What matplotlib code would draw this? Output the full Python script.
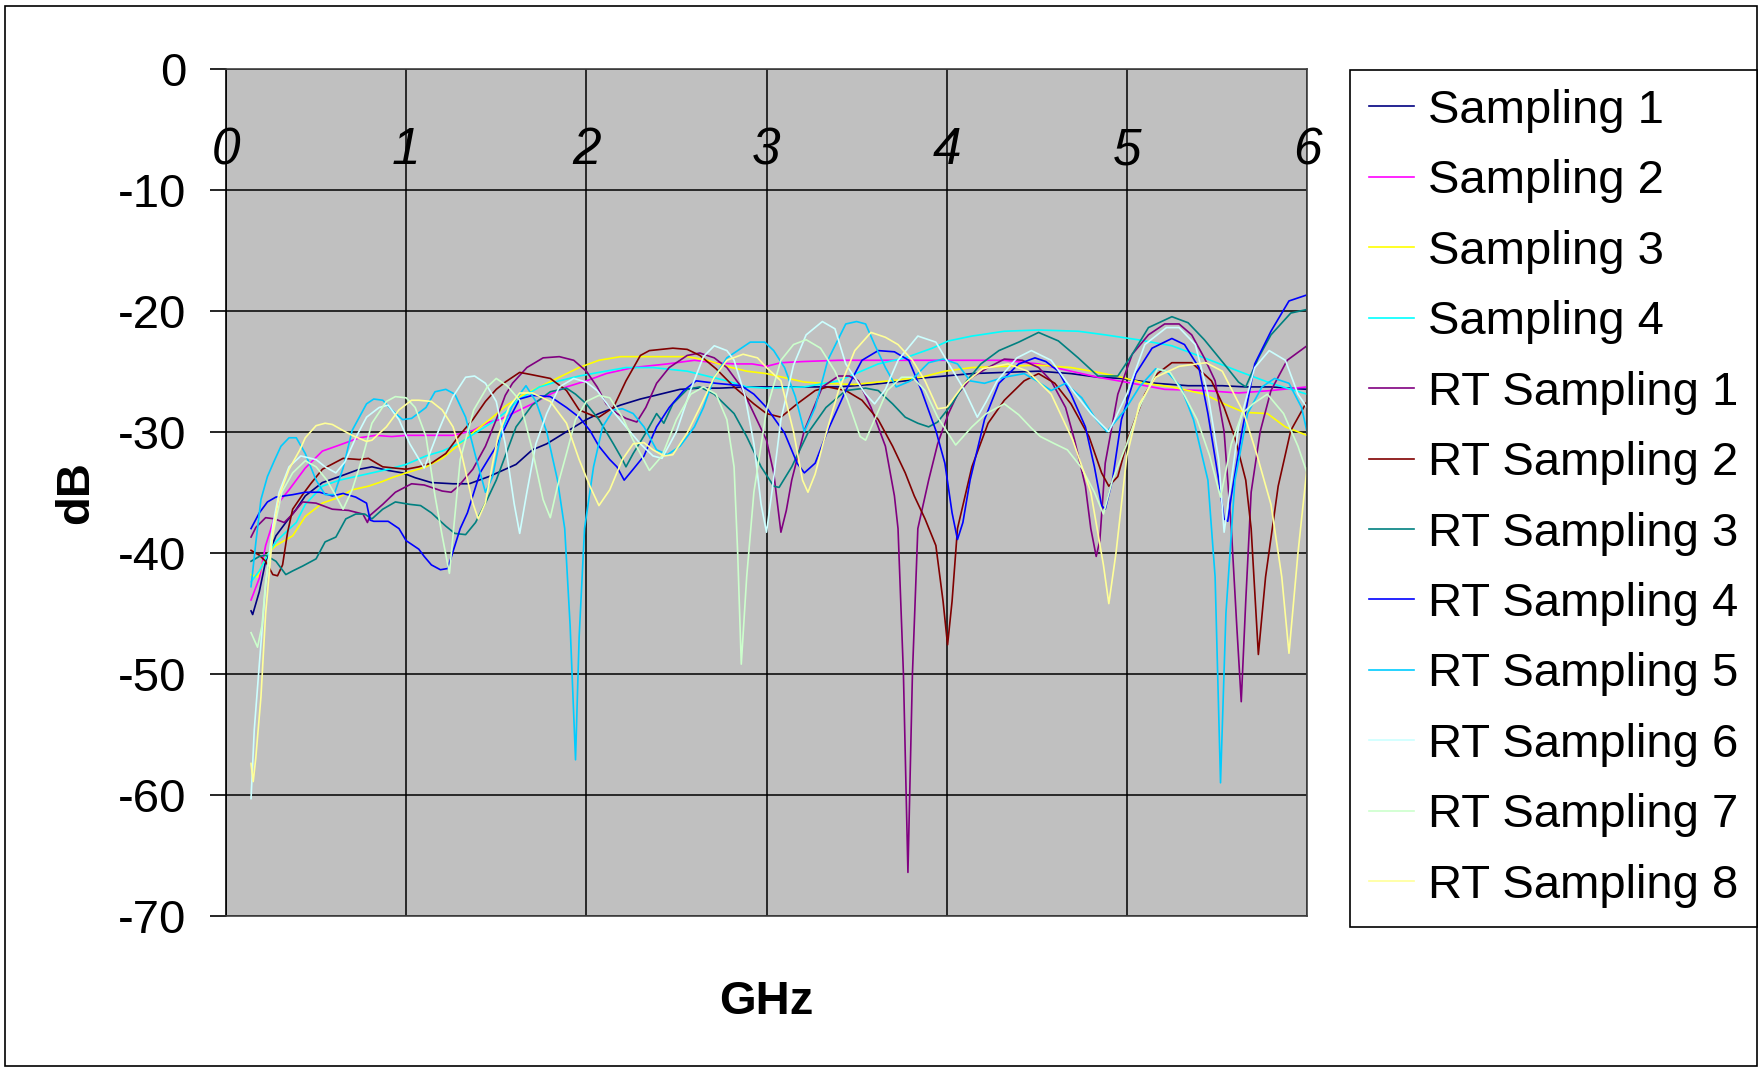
import matplotlib
matplotlib.use("Agg")
import matplotlib.pyplot as plt
from matplotlib.patches import Rectangle

plt.rcParams['font.family'] = ['Liberation Sans', 'DejaVu Sans']
plt.rcParams['axes.unicode_minus'] = False

# (GHz, dB) points
sampling1 = [(0.139, -44.8), (0.148, -45.1), (0.185, -43.2), (0.22, -40.7), (0.277, -38.6), (0.332, -37.5),
             (0.39, -36.4), (0.44, -35.3), (0.535, -34.2), (0.63, -33.7), (0.74, -33.1), (0.81, -32.9),
             (0.9, -33.2), (0.98, -33.4), (1.05, -33.8), (1.14, -34.2), (1.26, -34.3), (1.35, -34.3),
             (1.46, -33.7), (1.52, -33.3), (1.61, -32.7), (1.7, -31.5), (1.78, -31.0), (1.89, -30.0),
             (2.0, -29.0), (2.07, -28.5), (2.19, -27.8), (2.3, -27.3), (2.41, -26.9), (2.52, -26.5),
             (2.63, -26.4), (2.74, -26.4), (2.89, -26.3), (3.0, -26.3), (3.21, -26.3), (3.4, -26.3),
             (3.58, -26.1), (3.77, -25.8), (3.84, -25.6), (3.99, -25.4), (4.14, -25.2), (4.32, -25.1),
             (4.51, -25.0), (4.69, -25.2), (4.84, -25.5), (4.97, -25.6), (5.16, -26.0), (5.34, -26.2),
             (5.53, -26.2), (5.66, -26.3), (5.8, -26.3), (6.0, -26.5)]
sampling2 = [(0.139, -43.9), (0.185, -42.1), (0.22, -39.4), (0.26, -37.5), (0.295, -35.8), (0.35, -34.8),
             (0.44, -33.0), (0.535, -31.6), (0.63, -31.1), (0.74, -30.5), (0.83, -30.3), (0.92, -30.4),
             (1.0, -30.3), (1.11, -30.3), (1.26, -30.3), (1.37, -29.9), (1.46, -29.2), (1.52, -29.0),
             (1.63, -28.2), (1.7, -27.7), (1.8, -26.9), (1.89, -26.3), (2.0, -25.8), (2.11, -25.2),
             (2.26, -24.7), (2.45, -24.4), (2.6, -24.1), (2.71, -24.3), (2.82, -24.4), (2.92, -24.4),
             (3.0, -24.6), (3.08, -24.3), (3.21, -24.2), (3.4, -24.1), (3.77, -24.1), (4.14, -24.1),
             (4.32, -24.1), (4.51, -24.4), (4.69, -25.0), (4.84, -25.5), (5.03, -26.0), (5.21, -26.5),
             (5.43, -26.6), (5.62, -26.8), (5.8, -26.6), (6.0, -26.3)]
sampling3 = [(0.139, -41.8), (0.175, -42.0), (0.2, -41.0), (0.24, -39.9), (0.277, -39.4), (0.37, -38.6),
             (0.44, -37.0), (0.535, -35.9), (0.63, -35.4), (0.7, -34.8), (0.79, -34.5), (0.87, -34.1),
             (0.92, -33.8), (1.0, -33.4), (1.11, -32.9), (1.2, -32.2), (1.29, -31.1), (1.385, -29.9),
             (1.48, -28.8), (1.55, -27.9), (1.63, -27.1), (1.74, -26.3), (1.85, -25.5), (1.96, -24.7),
             (2.07, -24.1), (2.19, -23.8), (2.33, -23.8), (2.56, -23.8), (2.67, -24.1), (2.78, -24.6),
             (2.89, -25.0), (3.0, -25.2), (3.21, -25.9), (3.31, -26.0), (3.49, -26.1), (3.68, -25.8),
             (3.86, -25.5), (3.99, -25.0), (4.14, -24.7), (4.32, -24.6), (4.51, -24.5), (4.69, -24.7),
             (4.84, -25.1), (4.97, -25.5), (5.1, -26.0), (5.25, -26.3), (5.43, -26.9), (5.54, -27.7),
             (5.65, -28.4), (5.78, -28.5), (5.88, -29.6), (6.0, -30.3)]
sampling4 = [(0.139, -42.4), (0.185, -41.5), (0.23, -40.2), (0.277, -39.1), (0.332, -38.3), (0.39, -37.5),
             (0.44, -36.0), (0.535, -34.5), (0.63, -34.0), (0.72, -33.7), (0.81, -33.4), (0.9, -33.1),
             (1.0, -32.7), (1.11, -32.0), (1.2, -31.6), (1.29, -31.0), (1.385, -30.1), (1.48, -29.2),
             (1.55, -28.4), (1.63, -27.3), (1.74, -26.3), (1.85, -25.8), (1.96, -25.4), (2.07, -25.1),
             (2.22, -24.7), (2.37, -24.7), (2.56, -25.0), (2.67, -25.4), (2.78, -25.8), (2.89, -26.3),
             (3.0, -26.4), (3.21, -26.3), (3.4, -25.8), (3.51, -25.1), (3.62, -24.4), (3.77, -23.9),
             (3.92, -23.1), (4.01, -22.5), (4.14, -22.1), (4.32, -21.7), (4.51, -21.6), (4.73, -21.7),
             (4.88, -22.0), (5.06, -22.4), (5.25, -22.9), (5.43, -23.9), (5.62, -25.0), (5.8, -26.0),
             (6.0, -26.9)]
rt_sampling1 = [(0.139, -38.7), (0.166, -37.9), (0.22, -37.1), (0.27, -37.2), (0.323, -37.5), (0.37, -36.8),
                (0.425, -35.8), (0.5, -35.9), (0.59, -36.4), (0.68, -36.5), (0.76, -36.8), (0.785, -37.5),
                (0.8, -36.9), (0.87, -36.0), (0.94, -35.0), (1.03, -34.3), (1.1, -34.4), (1.2, -34.9),
                (1.25, -35.0), (1.29, -34.5), (1.37, -33.1), (1.44, -31.2), (1.5, -29.0), (1.55, -27.0),
                (1.59, -26.0), (1.67, -24.7), (1.76, -23.9), (1.85, -23.8), (1.93, -24.1), (2.0, -25.0),
                (2.06, -26.3), (2.11, -27.7), (2.17, -28.5), (2.22, -28.9), (2.28, -29.2), (2.33, -28.0),
                (2.39, -26.0), (2.46, -24.7), (2.56, -23.7), (2.63, -23.5), (2.71, -23.9), (2.78, -24.7),
                (2.86, -26.3), (2.93, -28.5), (3.0, -30.7), (3.04, -33.4), (3.08, -38.3), (3.11, -36.5),
                (3.14, -34.0), (3.21, -29.9), (3.31, -26.3), (3.4, -25.4), (3.46, -25.4), (3.51, -25.8),
                (3.58, -28.0), (3.66, -31.2), (3.71, -35.3), (3.73, -38.0), (3.76, -50.0), (3.785, -66.4),
                (3.81, -50.0), (3.84, -38.0), (3.9, -34.0), (3.95, -31.0), (4.01, -28.5), (4.06, -26.9),
                (4.14, -25.5), (4.23, -24.7), (4.32, -24.0), (4.42, -24.1), (4.51, -24.7), (4.58, -25.8),
                (4.66, -28.0), (4.71, -30.7), (4.77, -34.5), (4.8, -38.0), (4.83, -40.3), (4.85, -39.0),
                (4.88, -32.6), (4.95, -26.9), (5.03, -23.6), (5.12, -22.0), (5.21, -21.1), (5.29, -21.1),
                (5.36, -22.0), (5.43, -23.9), (5.49, -25.8), (5.54, -30.0), (5.58, -38.0), (5.61, -46.0),
                (5.635, -52.3), (5.66, -44.0), (5.69, -35.0), (5.74, -30.0), (5.8, -26.6), (5.89, -24.1),
                (6.0, -22.9)]
rt_sampling2 = [(0.139, -39.8), (0.185, -40.2), (0.22, -40.7), (0.26, -41.8), (0.286, -41.9), (0.314, -41.0),
                (0.342, -38.3), (0.37, -36.4), (0.425, -35.2), (0.47, -34.3), (0.535, -33.1), (0.65, -32.2),
                (0.74, -32.3), (0.79, -32.2), (0.87, -32.9), (1.0, -33.1), (1.07, -32.9), (1.14, -32.6),
                (1.22, -31.8), (1.29, -30.4), (1.37, -29.0), (1.44, -27.5), (1.5, -26.5), (1.55, -25.9),
                (1.63, -25.1), (1.7, -25.3), (1.8, -25.6), (1.89, -26.6), (1.96, -28.2), (2.04, -28.7),
                (2.07, -28.8), (2.15, -28.0), (2.22, -25.8), (2.3, -23.7), (2.35, -23.3), (2.48, -23.1),
                (2.56, -23.2), (2.63, -23.7), (2.72, -24.8), (2.82, -26.3), (2.93, -27.7), (3.0, -28.5),
                (3.08, -28.8), (3.17, -27.7), (3.27, -26.6), (3.34, -26.3), (3.44, -26.6), (3.53, -27.4),
                (3.62, -29.0), (3.7, -31.2), (3.77, -33.4), (3.82, -35.3), (3.88, -37.2), (3.94, -39.4),
                (3.98, -44.0), (4.005, -47.6), (4.03, -44.0), (4.06, -38.0), (4.14, -32.9), (4.23, -29.3),
                (4.32, -27.4), (4.43, -25.8), (4.51, -25.2), (4.6, -26.0), (4.69, -27.7), (4.79, -30.4),
                (4.86, -33.4), (4.9, -34.5), (4.95, -33.7), (5.01, -30.4), (5.1, -26.9), (5.17, -25.2),
                (5.25, -24.3), (5.36, -24.3), (5.47, -25.8), (5.54, -28.0), (5.6, -30.5), (5.66, -34.0),
                (5.69, -38.0), (5.73, -48.4), (5.77, -42.0), (5.84, -34.5), (5.91, -29.9), (6.0, -27.5)]
rt_sampling3 = [(0.139, -40.7), (0.185, -40.3), (0.22, -40.2), (0.277, -40.7), (0.332, -41.8), (0.37, -41.5),
                (0.425, -41.1), (0.5, -40.5), (0.55, -39.1), (0.61, -38.7), (0.665, -37.2), (0.72, -36.8),
                (0.77, -36.8), (0.81, -37.2), (0.87, -36.4), (0.94, -35.8), (1.02, -36.0), (1.08, -36.1),
                (1.14, -36.7), (1.22, -37.8), (1.27, -38.4), (1.33, -38.5), (1.385, -37.5), (1.44, -35.9),
                (1.5, -34.0), (1.55, -32.0), (1.61, -29.6), (1.7, -27.8), (1.8, -26.7), (1.89, -26.4),
                (1.94, -26.9), (2.0, -27.7), (2.07, -29.0), (2.15, -31.0), (2.2, -32.3), (2.22, -32.9),
                (2.26, -31.8), (2.33, -30.1), (2.39, -28.5), (2.43, -29.3), (2.48, -27.7), (2.56, -26.5),
                (2.63, -26.3), (2.71, -26.9), (2.82, -28.5), (2.89, -30.4), (2.97, -32.9), (3.04, -34.5),
                (3.07, -34.6), (3.14, -32.9), (3.23, -30.1), (3.33, -28.0), (3.44, -26.6), (3.55, -26.4),
                (3.62, -26.6), (3.7, -27.7), (3.77, -28.8), (3.84, -29.3), (3.9, -29.6), (3.95, -29.2),
                (4.03, -27.7), (4.1, -26.0), (4.19, -24.4), (4.29, -23.3), (4.4, -22.6), (4.51, -21.8),
                (4.62, -22.5), (4.73, -23.9), (4.81, -25.0), (4.84, -25.4), (4.95, -25.4), (5.03, -23.6),
                (5.12, -21.4), (5.25, -20.5), (5.34, -21.0), (5.43, -22.4), (5.54, -24.4), (5.62, -25.9),
                (5.66, -26.3), (5.73, -23.9), (5.8, -22.0), (5.91, -20.2), (6.0, -19.9)]
rt_sampling4 = [(0.139, -38.0), (0.185, -36.7), (0.23, -35.8), (0.277, -35.4), (0.37, -35.2), (0.44, -35.0),
                (0.52, -35.0), (0.59, -35.3), (0.65, -35.1), (0.72, -35.4), (0.78, -35.9), (0.8, -37.3),
                (0.82, -37.4), (0.9, -37.4), (0.96, -38.0), (1.0, -39.0), (1.07, -39.7), (1.1, -40.3),
                (1.14, -41.0), (1.19, -41.4), (1.23, -41.3), (1.26, -39.9), (1.3, -38.0), (1.34, -36.7),
                (1.41, -33.4), (1.5, -31.2), (1.57, -29.0), (1.63, -27.3), (1.7, -27.0), (1.8, -27.1),
                (1.89, -28.0), (1.96, -28.8), (2.02, -29.9), (2.07, -31.2), (2.13, -32.3), (2.17, -32.9),
                (2.21, -34.0), (2.26, -33.1), (2.32, -32.0), (2.39, -29.6), (2.46, -28.0), (2.54, -26.6),
                (2.61, -25.8), (2.72, -26.0), (2.86, -26.2), (2.93, -26.9), (3.0, -28.0), (3.1, -30.1),
                (3.17, -32.6), (3.21, -33.4), (3.27, -32.6), (3.34, -29.9), (3.44, -26.6), (3.53, -24.1),
                (3.62, -23.3), (3.71, -23.4), (3.79, -24.1), (3.86, -26.6), (3.94, -29.9), (3.99, -32.6),
                (4.03, -36.7), (4.06, -38.9), (4.09, -37.5), (4.13, -34.0), (4.21, -29.0), (4.29, -26.0),
                (4.4, -24.4), (4.49, -23.9), (4.55, -24.2), (4.62, -25.0), (4.69, -26.9), (4.77, -29.6),
                (4.82, -32.9), (4.86, -36.1), (4.88, -36.4), (4.92, -34.0), (4.97, -29.0), (5.05, -25.2),
                (5.14, -23.1), (5.25, -22.3), (5.32, -22.8), (5.4, -24.7), (5.45, -28.5), (5.51, -34.0),
                (5.54, -37.2), (5.56, -37.4), (5.58, -35.3), (5.64, -29.9), (5.71, -24.4), (5.8, -21.7),
                (5.9, -19.2), (6.0, -18.7)]
rt_sampling5 = [(0.139, -42.8), (0.166, -39.1), (0.194, -35.6), (0.23, -33.7), (0.268, -32.4), (0.305, -31.2),
                (0.35, -30.5), (0.39, -30.5), (0.44, -31.8), (0.5, -34.0), (0.55, -35.2), (0.6, -35.2),
                (0.65, -33.0), (0.7, -29.9), (0.78, -27.7), (0.82, -27.3), (0.87, -27.4), (0.92, -28.2),
                (0.98, -29.0), (1.03, -28.9), (1.11, -28.0), (1.16, -26.7), (1.22, -26.5), (1.27, -26.9),
                (1.33, -28.8), (1.385, -32.0), (1.44, -35.0), (1.48, -33.7), (1.53, -29.9), (1.6, -27.5),
                (1.665, -26.2), (1.72, -27.5), (1.78, -30.0), (1.84, -34.0), (1.88, -38.0), (1.91, -46.0),
                (1.94, -57.1), (1.96, -47.0), (1.99, -38.0), (2.04, -32.9), (2.09, -29.6), (2.15, -28.2),
                (2.2, -28.1), (2.26, -28.5), (2.32, -29.6), (2.39, -31.5), (2.45, -31.9), (2.52, -31.2),
                (2.6, -29.6), (2.65, -28.0), (2.71, -25.5), (2.78, -23.9), (2.86, -23.1), (2.91, -22.6),
                (2.99, -22.6), (3.04, -23.3), (3.1, -24.7), (3.16, -27.1), (3.21, -30.0), (3.27, -28.0),
                (3.34, -24.1), (3.44, -21.1), (3.5, -20.9), (3.55, -21.1), (3.6, -22.8), (3.66, -24.7),
                (3.72, -26.3), (3.8, -25.8), (3.9, -24.3), (3.98, -24.0), (4.06, -24.4), (4.13, -25.8),
                (4.21, -26.0), (4.32, -25.5), (4.43, -25.2), (4.5, -25.8), (4.58, -26.6), (4.66, -26.0),
                (4.75, -27.2), (4.83, -29.0), (4.89, -30.0), (4.99, -28.2), (5.07, -26.3), (5.16, -24.8),
                (5.22, -25.0), (5.3, -26.3), (5.37, -29.0), (5.45, -34.0), (5.49, -42.0), (5.52, -59.0),
                (5.55, -45.0), (5.6, -34.0), (5.67, -28.5), (5.75, -26.3), (5.82, -25.6), (5.9, -26.0),
                (5.97, -28.0), (6.0, -30.0)]
rt_sampling6 = [(0.139, -60.3), (0.157, -54.6), (0.185, -49.2), (0.22, -42.6), (0.26, -37.7), (0.295, -35.0),
                (0.35, -32.9), (0.415, -32.0), (0.5, -32.3), (0.55, -32.9), (0.61, -33.4), (0.66, -32.5),
                (0.72, -30.5), (0.78, -28.8), (0.85, -28.0), (0.9, -27.8), (0.96, -29.0), (1.02, -31.0),
                (1.1, -33.0), (1.18, -29.9), (1.26, -27.1), (1.33, -25.5), (1.38, -25.4), (1.44, -26.0),
                (1.5, -27.5), (1.55, -31.0), (1.6, -36.0), (1.63, -38.4), (1.67, -35.0), (1.72, -31.0),
                (1.78, -28.5), (1.85, -26.3), (1.93, -25.6), (2.0, -25.9), (2.06, -26.6), (2.13, -28.0),
                (2.22, -29.6), (2.3, -31.0), (2.37, -32.0), (2.42, -32.2), (2.5, -30.0), (2.58, -26.5),
                (2.65, -23.8), (2.71, -22.9), (2.78, -23.3), (2.82, -24.1), (2.88, -27.0), (2.93, -31.0),
                (2.97, -36.0), (3.0, -38.3), (3.03, -35.0), (3.08, -29.0), (3.15, -24.5), (3.22, -22.0),
                (3.31, -20.9), (3.38, -21.5), (3.44, -24.4), (3.55, -26.9), (3.6, -27.7), (3.66, -26.5),
                (3.73, -24.1), (3.84, -22.1), (3.94, -22.6), (4.0, -24.1), (4.1, -26.6), (4.17, -28.8),
                (4.22, -27.5), (4.28, -25.8), (4.39, -23.9), (4.47, -23.3), (4.58, -24.1), (4.7, -26.6),
                (4.8, -28.5), (4.9, -30.0), (5.0, -26.9), (5.1, -22.8), (5.22, -21.4), (5.29, -21.4),
                (5.38, -22.8), (5.45, -26.9), (5.51, -32.3), (5.54, -38.3), (5.58, -34.0), (5.62, -29.6),
                (5.71, -24.7), (5.79, -23.3), (5.88, -24.1), (5.95, -26.9), (6.0, -28.0)]
rt_sampling7 = [(0.139, -46.6), (0.175, -47.8), (0.2, -46.0), (0.22, -42.4), (0.26, -38.5), (0.31, -35.0),
                (0.37, -33.4), (0.44, -32.4), (0.5, -32.9), (0.56, -34.0), (0.61, -35.3), (0.65, -36.4),
                (0.7, -34.8), (0.76, -32.0), (0.81, -29.3), (0.89, -27.5), (0.94, -27.1), (1.0, -27.2),
                (1.05, -28.0), (1.11, -30.4), (1.16, -35.3), (1.2, -38.6), (1.24, -41.7), (1.27, -37.0),
                (1.3, -32.3), (1.375, -28.2), (1.45, -26.3), (1.5, -25.6), (1.56, -26.2), (1.63, -27.4),
                (1.7, -31.5), (1.76, -35.6), (1.8, -37.1), (1.84, -34.5), (1.89, -31.8), (1.94, -29.0),
                (2.0, -27.5), (2.07, -27.0), (2.13, -27.2), (2.2, -28.8), (2.26, -30.7), (2.35, -33.2),
                (2.42, -32.0), (2.5, -29.0), (2.58, -26.9), (2.65, -26.3), (2.72, -26.9), (2.78, -29.0),
                (2.82, -32.9), (2.84, -40.0), (2.86, -49.2), (2.89, -42.0), (2.93, -35.0), (3.0, -28.2),
                (3.08, -24.1), (3.15, -22.8), (3.22, -22.4), (3.3, -23.1), (3.38, -25.0), (3.45, -27.4),
                (3.52, -30.4), (3.55, -30.7), (3.6, -29.0), (3.67, -26.6), (3.75, -25.5), (3.81, -25.5),
                (3.88, -26.6), (3.95, -28.8), (4.05, -31.1), (4.14, -29.6), (4.22, -28.5), (4.32, -27.7),
                (4.4, -28.6), (4.47, -29.7), (4.52, -30.4), (4.6, -31.0), (4.67, -31.5), (4.75, -33.0),
                (4.82, -35.0), (4.87, -36.8), (4.92, -34.0), (5.0, -31.0), (5.07, -28.0), (5.17, -24.8),
                (5.24, -25.1), (5.32, -27.0), (5.39, -29.0), (5.46, -32.0), (5.52, -35.4), (5.58, -31.0),
                (5.64, -28.5), (5.7, -27.7), (5.78, -26.9), (5.87, -28.5), (5.95, -31.2), (6.0, -33.4)]
rt_sampling8 = [(0.139, -57.4), (0.151, -58.9), (0.165, -57.0), (0.194, -51.9), (0.22, -45.0), (0.26, -38.3),
                (0.295, -35.3), (0.35, -33.1), (0.41, -31.5), (0.44, -30.5), (0.5, -29.5), (0.55, -29.3),
                (0.59, -29.4), (0.65, -29.9), (0.7, -30.3), (0.78, -30.8), (0.81, -30.7), (0.89, -29.6),
                (0.96, -28.2), (1.03, -27.4), (1.07, -27.4), (1.14, -27.5), (1.2, -28.2), (1.26, -29.6),
                (1.31, -32.0), (1.37, -35.9), (1.4, -37.2), (1.44, -35.9), (1.48, -32.6), (1.51, -30.4),
                (1.57, -28.0), (1.63, -26.8), (1.7, -26.8), (1.8, -27.5), (1.89, -29.3), (1.96, -32.3),
                (2.02, -34.5), (2.07, -36.1), (2.13, -34.8), (2.2, -32.3), (2.26, -31.0), (2.32, -30.9),
                (2.37, -31.5), (2.43, -32.0), (2.48, -31.9), (2.56, -30.1), (2.63, -28.0), (2.71, -25.5),
                (2.78, -24.1), (2.87, -23.6), (2.95, -23.9), (3.0, -24.7), (3.08, -25.8), (3.15, -30.0),
                (3.2, -34.0), (3.23, -35.0), (3.27, -33.5), (3.31, -31.2), (3.4, -26.6), (3.49, -23.3),
                (3.58, -21.8), (3.66, -22.2), (3.73, -22.8), (3.81, -24.1), (3.88, -25.8), (3.95, -28.1),
                (4.0, -28.0), (4.1, -26.0), (4.2, -24.8), (4.34, -24.4), (4.45, -25.0), (4.58, -26.9),
                (4.7, -30.7), (4.8, -35.0), (4.87, -41.0), (4.9, -44.2), (4.94, -40.0), (5.0, -32.0),
                (5.07, -27.7), (5.16, -25.5), (5.29, -24.6), (5.44, -24.3), (5.53, -25.0), (5.65, -28.5),
                (5.72, -31.8), (5.8, -36.0), (5.86, -42.0), (5.9, -48.3), (5.95, -40.0), (6.0, -33.0)]

series = [sampling1, sampling2, sampling3, sampling4, rt_sampling1, rt_sampling2,
          rt_sampling3, rt_sampling4, rt_sampling5, rt_sampling6, rt_sampling7, rt_sampling8]
labels = ["Sampling 1", "Sampling 2", "Sampling 3", "Sampling 4",
          "RT Sampling 1", "RT Sampling 2", "RT Sampling 3", "RT Sampling 4",
          "RT Sampling 5", "RT Sampling 6", "RT Sampling 7", "RT Sampling 8"]
colors = ["#000080", "#FF00FF", "#FFFF00", "#00FFFF", "#800080", "#800000",
          "#008080", "#0000FF", "#00CCFF", "#CCFFFF", "#CCFFCC", "#FFFF99"]

x_ticks = [0, 1, 2, 3, 4, 5, 6]
y_ticks = [0, -10, -20, -30, -40, -50, -60, -70]

fig = plt.figure(figsize=(17.6, 10.68), dpi=100)
ax = fig.add_axes([226/1760, 1 - 916/1068, (1307-226)/1760, (916-68.5)/1068])
ax.set_facecolor("#C0C0C0")

for pts, lab, col in zip(series, labels, colors):
    xs, ys = zip(*pts)
    ax.plot(xs, ys, color=col, lw=1.2, label=lab)

ax.set_xlim(0, 6)
ax.set_ylim(-70, 0)
ax.set_yticks(y_ticks)
ax.set_yticklabels([str(v) for v in y_ticks], fontsize=34)
ax.tick_params(axis='y', direction='out', length=11.5, width=1.2, pad=17)
ax.set_xticks(x_ticks)
ax.set_xticklabels([])
ax.tick_params(axis='x', length=0)
ax.grid(True, color='black', lw=1.1)
ax.set_axisbelow(True)
for sp in ax.spines.values():
    sp.set_color('#404040')
    sp.set_linewidth(1.2)
ax.spines['left'].set_color('black')

# category labels sit inside the plot, just under the top edge
for t in x_ticks:
    ax.text(t, -6.8, str(t), fontsize=37, style='italic', ha='center', va='center')

ax.set_ylabel("dB", fontsize=34, fontweight='bold')
ax.yaxis.set_label_coords(-0.118, 0.5)
ax.set_xlabel("GHz", fontsize=34, fontweight='bold')
ax.xaxis.set_label_coords(0.5, -0.075)

leg = fig.legend(loc='upper left', bbox_to_anchor=(1350/1760, 1 - 70/1068), fontsize=34,
                 frameon=True, fancybox=False, edgecolor='black', framealpha=1,
                 handlelength=0.95, handletextpad=0.3, labelspacing=0.56, borderpad=0.4,
                 borderaxespad=0)
leg.get_frame().set_linewidth(1.2)

fig.patches.append(Rectangle((5/1760, 2/1068), 1752/1760, 1060/1068, transform=fig.transFigure,
                             fill=False, edgecolor='black', lw=1.2))

plt.savefig("out.png", dpi=100)
